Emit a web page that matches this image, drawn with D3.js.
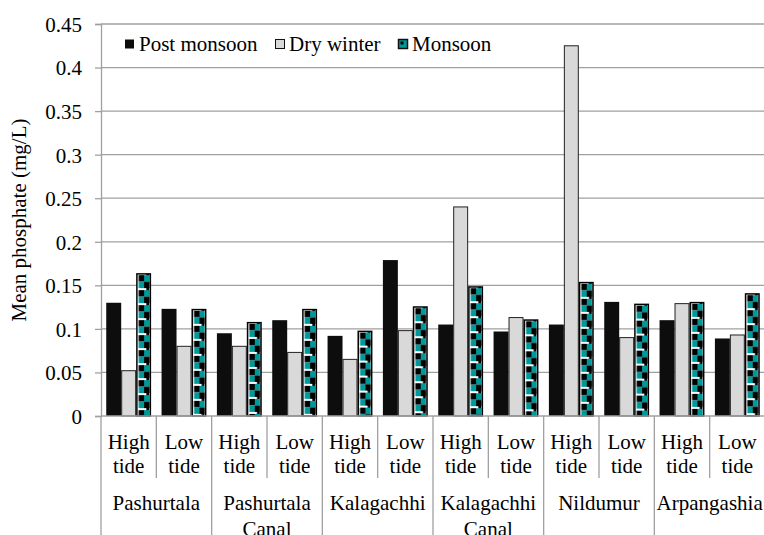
<!DOCTYPE html>
<html>
<head>
<meta charset="utf-8">
<script src="https://cdn.jsdelivr.net/npm/d3@7"></script>
<style>
  body { margin: 0; background: #fff; }
  svg text { font-family: "Liberation Serif", Tinos, "Times New Roman", "DejaVu Serif", serif !important; fill: #000; }
</style>
</head>
<body>
<div id="container"></div>
<script>
	var WIDTH = 764;
	var HEIGHT = 535;
	var FONT = '21px';
	var SERIF = '"Liberation Serif", Tinos, "Times New Roman", "DejaVu Serif", serif';

	// data
	var sites = ["Pashurtala", "Pashurtala\nCanal", "Kalagachhi", "Kalagachhi\nCanal", "Nildumur", "Arpangashia"];
	var tides = ["High\ntide", "Low\ntide"];
	var seriesNames = ["Post monsoon", "Dry winter", "Monsoon"];
	var postMonsoon = [0.130, 0.123, 0.095, 0.110, 0.092, 0.179, 0.105, 0.097, 0.105, 0.131, 0.110, 0.089];
	var dryWinter   = [0.052, 0.080, 0.080, 0.073, 0.065, 0.098, 0.240, 0.113, 0.425, 0.090, 0.129, 0.093];
	var monsoon     = [0.164, 0.123, 0.108, 0.123, 0.098, 0.126, 0.149, 0.111, 0.154, 0.129, 0.131, 0.141];
	var yTicks = [0, 0.05, 0.1, 0.15, 0.2, 0.25, 0.3, 0.35, 0.4, 0.45];

	var plotLeft = 101, plotRight = 765, plotTop = 24, plotBottom = 416;

	var subs = [];
	for (var i = 0; i < sites.length * tides.length; i++) subs.push(i);

	var data = subs.map(function(i){
		return {i: i, values: [postMonsoon[i], dryWinter[i], monsoon[i]]};
	});

	var svg = d3.select('#container')
		.append('svg')
		.attr('width', WIDTH)
		.attr('height', HEIGHT)
		.attr('font-family', SERIF);

	var y = d3.scaleLinear().domain([0, 0.45]).range([plotBottom, plotTop]);
	var x0 = d3.scaleBand().domain(subs).range([plotLeft, plotRight]).padding(0);
	var step = x0.step();
	var barW = step / 3.7;
	var x1 = d3.scaleBand().domain(seriesNames)
		.range([barW * 0.35, barW * 0.35 + 3 * barW]).padding(0);

	// monsoon pattern
	var defs = svg.append('defs');
	var pat = defs.append('pattern')
		.attr('id', 'mons')
		.attr('patternUnits', 'userSpaceOnUse')
		.attr('width', barW)
		.attr('height', 15);
	var cw = (barW - 4) / 2;
	pat.append('rect').attr('width', barW).attr('height', 15).attr('fill', '#fff');
	pat.append('rect').attr('x', barW - 2 - cw * 0.5).attr('y', 0).attr('width', cw * 0.5).attr('height', 2).attr('fill', '#000');
	pat.append('rect').attr('x', 2.5).attr('y', 2).attr('width', cw).attr('height', 6.5).attr('fill', '#000');
	pat.append('rect').attr('x', 2.5 + cw).attr('y', 2).attr('width', cw).attr('height', 6.5).attr('fill', '#099');
	pat.append('rect').attr('x', 2.5).attr('y', 8.5).attr('width', cw).attr('height', 6.5).attr('fill', '#099');
	pat.append('rect').attr('x', 2.5 + cw).attr('y', 8.5).attr('width', cw).attr('height', 6.5).attr('fill', '#000');

	// gridlines
	svg.append('g')
		.selectAll('line')
		.data(yTicks.slice(1))
		.enter().append('line')
		.attr('x1', plotLeft).attr('x2', WIDTH)
		.attr('y1', function(d){ return y(d); })
		.attr('y2', function(d){ return y(d); })
		.style('stroke', '#a0a0a0')
		.style('stroke-width', 1.3);

	// y axis
	var yAxis = svg.append('g')
		.attr('transform', 'translate(' + plotLeft + ',0)')
		.call(d3.axisLeft(y).tickValues(yTicks).tickSize(6).tickPadding(13)
			.tickFormat(function(d){ return String(+d.toFixed(2)); }));
	yAxis.attr('font-family', SERIF).attr('font-size', FONT);
	yAxis.select('.domain').style('stroke', '#a0a0a0').style('stroke-width', 1.3);
	yAxis.selectAll('.tick line').style('stroke', '#a0a0a0').style('stroke-width', 1.3);
	yAxis.selectAll('.tick text')
		.style('font-size', FONT)
		.style('font-family', SERIF)
		.attr('dy', '0.35em');

	// bars
	var groups = svg.append('g')
		.selectAll('g')
		.data(data)
		.enter().append('g')
		.attr('transform', function(d){ return 'translate(' + x0(d.i) + ',0)'; });

	groups.each(function(d){
		var g = d3.select(this);
		d.values.forEach(function(v, k){
			var bx = x1(seriesNames[k]);
			if (k === 0) {
				g.append('rect')
					.attr('x', bx).attr('y', y(v))
					.attr('width', barW).attr('height', plotBottom - y(v))
					.style('fill', '#0d0d0d');
			} else if (k === 1) {
				g.append('rect')
					.attr('x', bx + 0.5).attr('y', y(v))
					.attr('width', barW - 1).attr('height', plotBottom - y(v))
					.style('fill', '#d9d9d9')
					.style('stroke', '#222')
					.style('stroke-width', 1);
			} else {
				var mg = g.append('g').attr('transform', 'translate(' + bx + ',' + y(v) + ')');
				mg.append('rect')
					.attr('x', 0.75).attr('y', 0.75)
					.attr('width', barW - 1.5).attr('height', plotBottom - y(v) - 0.75)
					.style('fill', 'url(#mons)')
					.style('stroke', '#000')
					.style('stroke-width', 1.5);
			}
		});
	});

	// category axis
	svg.append('line')
		.attr('x1', plotLeft).attr('x2', WIDTH)
		.attr('y1', plotBottom).attr('y2', plotBottom)
		.style('stroke', '#a0a0a0').style('stroke-width', 1.3);

	var seps = d3.range(subs.length + 1);
	svg.append('g')
		.selectAll('line')
		.data(seps)
		.enter().append('line')
		.attr('x1', function(d){ return plotLeft + d * step; })
		.attr('x2', function(d){ return plotLeft + d * step; })
		.attr('y1', plotBottom)
		.attr('y2', function(d){ return d % 2 === 0 ? HEIGHT : 478; })
		.style('stroke', '#a0a0a0').style('stroke-width', 1.3);

	var tideLabels = svg.append('g')
		.selectAll('text')
		.data(subs)
		.enter().append('text')
		.attr('x', function(d){ return x0(d) + step / 2; })
		.attr('y', 449)
		.attr('text-anchor', 'middle')
		.style('font-size', FONT);
	tideLabels.each(function(d){
		var lines = tides[d % 2].split('\n');
		var t = d3.select(this);
		lines.forEach(function(s, j){
			t.append('tspan').attr('x', x0(d) + step / 2).attr('dy', j === 0 ? 0 : 24).text(s);
		});
	});

	var siteLabels = svg.append('g')
		.selectAll('text')
		.data(sites)
		.enter().append('text')
		.attr('x', function(d, i){ return plotLeft + (i * 2 + 1) * step; })
		.attr('y', 510)
		.attr('text-anchor', 'middle')
		.style('font-size', FONT);
	siteLabels.each(function(d, i){
		var t = d3.select(this);
		d.split('\n').forEach(function(s, j){
			t.append('tspan').attr('x', plotLeft + (i * 2 + 1) * step).attr('dy', j === 0 ? 0 : 26).text(s);
		});
	});

	// y title
	svg.append('text')
		.attr('transform', 'translate(26,' + ((plotTop + plotBottom) / 2) + ') rotate(-90)')
		.attr('text-anchor', 'middle')
		.style('font-size', FONT)
		.text('Mean phosphate (mg/L)');

	// legend
	var legX = [125, 275, 398];
	var leg = svg.append('g')
		.selectAll('g')
		.data(seriesNames)
		.enter().append('g')
		.attr('transform', function(d, i){ return 'translate(' + legX[i] + ',39)'; });
	leg.append('rect')
		.attr('x', function(d, i){ return i === 0 ? 0 : 0.5; })
		.attr('y', 0.5)
		.attr('width', 9).attr('height', 9)
		.style('fill', function(d, i){ return i === 0 ? '#0d0d0d' : (i === 1 ? '#d9d9d9' : '#099'); })
		.style('stroke', function(d, i){ return i === 0 ? 'none' : '#111'; })
		.style('stroke-width', function(d, i){ return i === 2 ? 1.5 : 1; });
	leg.filter(function(d, i){ return i === 2; })
		.append('rect')
		.attr('x', 2.5).attr('y', 2.5).attr('width', 3).attr('height', 3)
		.style('fill', '#000');
	leg.append('text')
		.attr('x', 14)
		.attr('y', 11.5)
		.style('font-size', FONT)
		.text(function(d){ return d; });
</script>
</body>
</html>
